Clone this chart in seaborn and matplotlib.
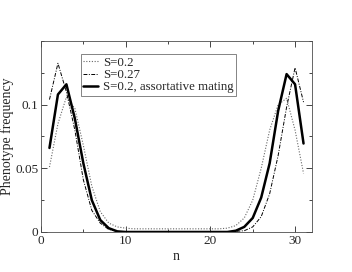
import numpy as np
import pandas as pd
import seaborn as sns
import matplotlib.pyplot as plt
from matplotlib.ticker import MultipleLocator

# phenotype index
n = list(range(1, 32))

# S=0.2 (dotted)
s020 = [0.051, 0.085, 0.106, 0.097, 0.068, 0.036, 0.016, 0.007, 0.004, 0.003,
        0.0025, 0.0025, 0.0025, 0.0025, 0.0025, 0.0025, 0.0025, 0.0025, 0.0025, 0.0025,
        0.0025, 0.003, 0.005, 0.011, 0.025, 0.05, 0.08, 0.1, 0.105, 0.08, 0.046]
# S=0.27 (dash-dot)
s027 = [0.104, 0.1325, 0.11, 0.08, 0.041, 0.017, 0.007, 0.002, 0.0005, 0.0,
        0.0, 0.0, 0.0, 0.0, 0.0, 0.0, 0.0, 0.0, 0.0, 0.0,
        0.0, 0.0, 0.0005, 0.001, 0.004, 0.012, 0.03, 0.06, 0.098, 0.129, 0.102]
# S=0.2, assortative mating (solid)
s020_am = [0.066, 0.108, 0.116, 0.089, 0.054, 0.025, 0.0094, 0.003, 0.0005, 0.0,
           0.0, 0.0, 0.0, 0.0, 0.0, 0.0, 0.0, 0.0, 0.0, 0.0,
           0.0, 0.0, 0.001, 0.004, 0.011, 0.027, 0.054, 0.095, 0.124, 0.116, 0.0695]

sns.set_style("ticks")
plt.rcParams['font.family'] = ['Liberation Serif', 'DejaVu Serif']

fig = plt.figure(figsize=(3.52, 2.72), dpi=100)
ax = fig.add_axes([41/352, 1 - 232/272, 271/352, 191/272])

sns.lineplot(x=n, y=s020, ax=ax, color='0.4', linestyle=(0, (1, 1.5)), linewidth=0.8, label='S=0.2')
sns.lineplot(x=n, y=s027, ax=ax, color='black', linestyle=(0, (4, 1.5, 1, 1.5)), linewidth=0.7, label='S=0.27')
sns.lineplot(x=n, y=s020_am, ax=ax, color='black', linewidth=1.8, label='S=0.2, assortative mating')

ax.set_xlim(0, 32)
ax.set_ylim(0, 0.15)
ax.xaxis.set_major_locator(MultipleLocator(10))
ax.xaxis.set_minor_locator(MultipleLocator(5))
ax.yaxis.set_minor_locator(MultipleLocator(0.025))
ax.set_yticks([0, 0.05, 0.1])
ax.set_yticklabels(['0', '0.05', '0.1'])
ax.tick_params(which='both', direction='in', top=True, right=True, labelsize=9.5, width=0.6, pad=2)
ax.tick_params(which='major', length=4)
ax.tick_params(which='minor', length=2)
for sp in ax.spines.values():
    sp.set_linewidth(0.6)
    sp.set_color('0.3')

ax.set_xlabel('n', fontsize=10)
ax.set_ylabel('Phenotype frequency', fontsize=10)
ax.xaxis.set_label_coords(0.5, -0.094)
ax.yaxis.set_label_coords(-0.1, 0.5)

leg = ax.legend(loc='upper left', bbox_to_anchor=(0.147, 0.93), fontsize=9.3, frameon=True,
                fancybox=False, edgecolor='0.3', handlelength=1.1, handletextpad=0.4,
                labelspacing=0.0, borderpad=0.2, borderaxespad=0)
leg.get_frame().set_linewidth(0.6)

plt.savefig('out.png', dpi=100)
